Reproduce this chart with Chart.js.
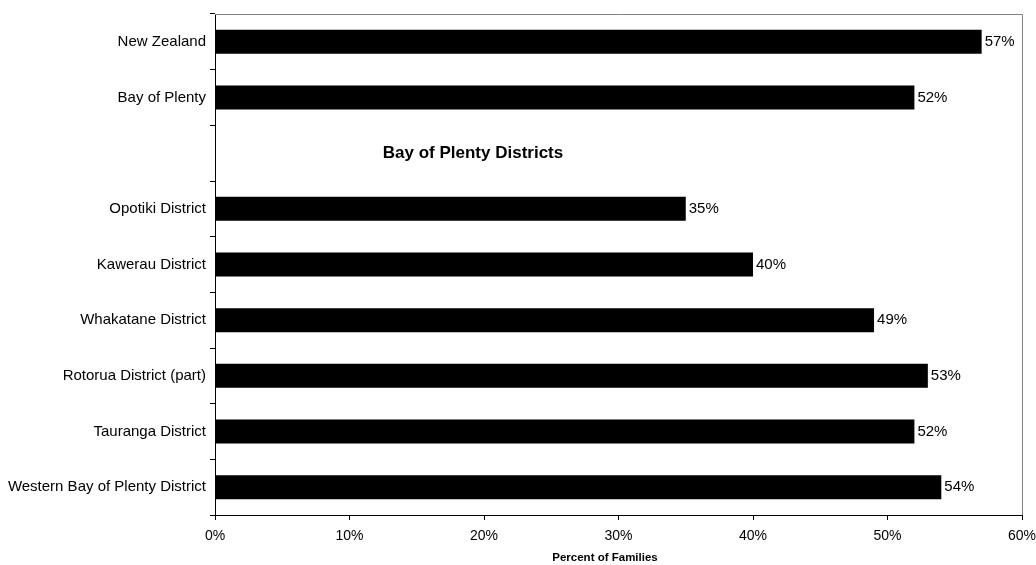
<!DOCTYPE html>
<html>
<head>
<meta charset="utf-8">
<script src="https://cdn.jsdelivr.net/npm/chart.js@4.4.1/dist/chart.umd.min.js"></script>
<style>
  html, body { margin: 0; padding: 0; background: #fff; }
  #wrap { width: 1036px; height: 565px; }
</style>
</head>
<body>
<div id="wrap"><canvas id="canvas" width="1036" height="565"></canvas></div>
<script>
// share of families by area; the blank slot carries the districts heading
var areas = ['New Zealand', 'Bay of Plenty', '', 'Opotiki District', 'Kawerau District',
             'Whakatane District', 'Rotorua District (part)', 'Tauranga District',
             'Western Bay of Plenty District'];
var percents = [57, 52, null, 35, 40, 49, 53, 52, 54];
var headingIndex = 2;
var headingText = 'Bay of Plenty Districts';
var xTicks = [0, 10, 20, 30, 40, 50, 60];
var xTitle = 'Percent of Families';

var FONT = '"Liberation Sans", Arial, sans-serif';

// value labels, heading, axis title and the grey frame on top/right
var extras = {
    id: 'extras',
    afterDatasetsDraw: function(chart) {
        var ctx = chart.ctx;
        var meta = chart.getDatasetMeta(0);
        var yScale = chart.scales.y;
        var area = chart.chartArea;
        ctx.save();
        ctx.fillStyle = '#000';
        ctx.font = '15px ' + FONT;
        ctx.textAlign = 'left';
        ctx.textBaseline = 'middle';
        meta.data.forEach(function(bar, i) {
            if (percents[i] == null) return;
            ctx.fillText(percents[i] + '%', bar.x + 3, bar.y);
        });

        ctx.font = 'bold 17px ' + FONT;
        ctx.textAlign = 'center';
        ctx.fillText(headingText, 473, yScale.getPixelForValue(headingIndex));

        ctx.font = 'bold 11.5px ' + FONT;
        ctx.fillText(xTitle, 605, 558);

        ctx.strokeStyle = '#808080';
        ctx.lineWidth = 1;
        ctx.beginPath();
        ctx.moveTo(area.left, area.top + 0.5);
        ctx.lineTo(area.right + 0.5, area.top + 0.5);
        ctx.lineTo(area.right + 0.5, area.bottom);
        ctx.stroke();
        ctx.restore();
    }
};

var canvasCxt = document.getElementById('canvas').getContext('2d');
var familyChart = new Chart(canvasCxt, {
    type: 'bar',
    data: {
        labels: areas,
        datasets: [{
            data: percents,
            backgroundColor: '#000',
            borderWidth: 0,
            categoryPercentage: 0.86,
            barPercentage: 0.5
        }]
    },
    options: {
        indexAxis: 'y',
        responsive: false,
        animation: false,
        layout: { padding: { top: 14, right: 0, left: 0, bottom: 0 } },
        plugins: { legend: { display: false }, tooltip: { enabled: false } },
        scales: {
            x: {
                min: 0,
                max: 60,
                afterBuildTicks: function(scale) {
                    scale.ticks = xTicks.map(function(v) { return { value: v }; });
                },
                afterFit: function(scale) {
                    scale.height = 50;
                    scale.paddingRight = 14;
                },
                ticks: {
                    color: '#000',
                    padding: 8,
                    maxRotation: 0,
                    font: { family: FONT, size: 14 },
                    callback: function(v) { return v + '%'; }
                },
                grid: {
                    drawOnChartArea: false,
                    tickLength: 5,
                    color: '#000'
                },
                border: { color: '#000', width: 1 }
            },
            y: {
                afterFit: function(scale) { scale.width = 215; },
                ticks: {
                    color: '#000',
                    padding: 4,
                    autoSkip: false,
                    font: { family: FONT, size: 15 }
                },
                grid: {
                    drawOnChartArea: false,
                    offset: true,
                    tickLength: 5,
                    color: '#000'
                },
                border: { color: '#000', width: 1 }
            }
        }
    },
    plugins: [extras]
});
</script>
</body>
</html>
